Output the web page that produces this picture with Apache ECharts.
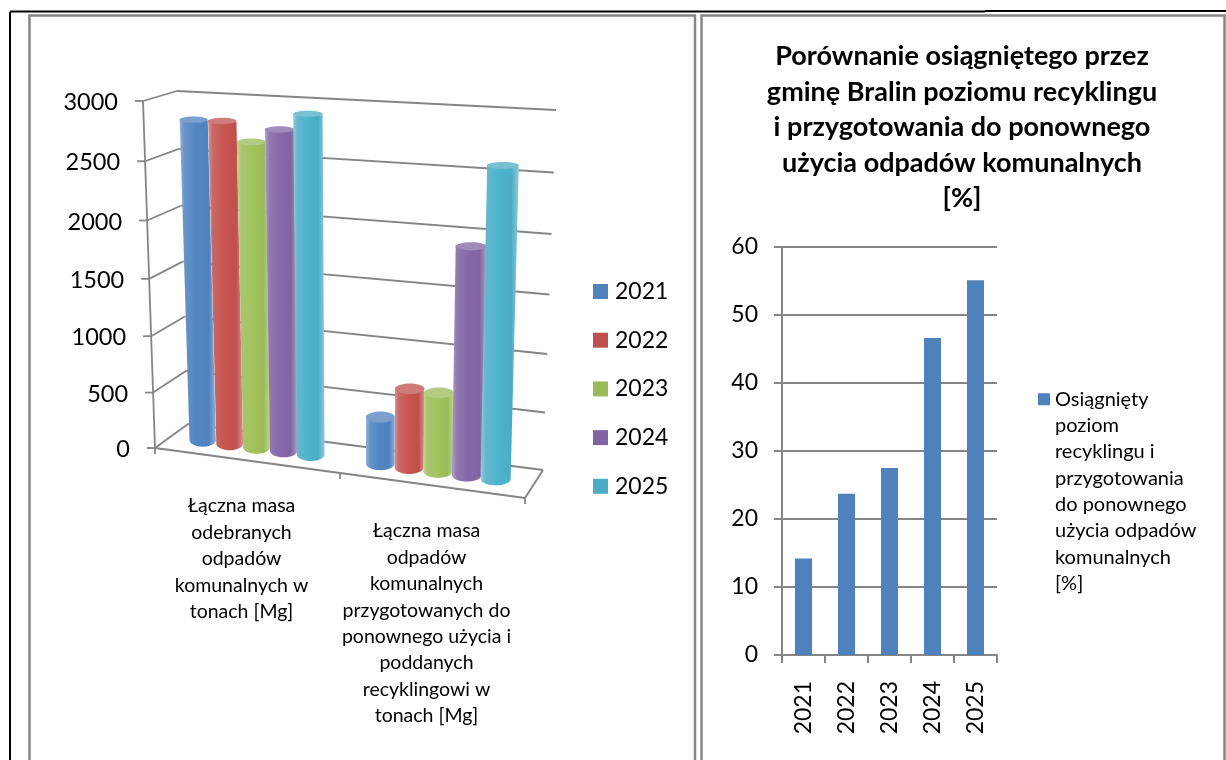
<!DOCTYPE html>
<html><head><meta charset="utf-8">
<style>html,body{margin:0;padding:0;background:#fff}#c{width:1226px;height:760px}</style>
<script src="https://cdn.jsdelivr.net/npm/echarts@6/dist/echarts.min.js"></script>
</head><body><div id="c"></div>
<script>
// ---- data ----
const categories3d = [
  'Łączna masa\nodebranych\nodpadów\nkomunalnych w\ntonach [Mg]',
  'Łączna masa\nodpadów\nkomunalnych\nprzygotowanych do\nponownego użycia i\npoddanych\nrecyklingowi w\ntonach [Mg]'
];
const years = ['2021','2022','2023','2024','2025'];
const mass2021 = [2817, 411];
const mass2022 = [2820, 686];
const mass2023 = [2660, 680];
const mass2024 = [2778, 1930];
const mass2025 = [2920, 2600];
const massTicks = [0,500,1000,1500,2000,2500,3000];
const palette = ['#4f81bd','#c0504d','#9bbb59','#8064a2','#4bacc6'];
const rateValues = [14.2, 23.7, 27.5, 46.6, 55.1];
const rateName = 'Osiągnięty\npoziom\nrecyklingu i\nprzygotowania\ndo ponownego\nużycia odpadów\nkomunalnych\n[%]';
const titleText = 'Porównanie osiągniętego przez\ngminę Bralin poziomu recyklingu\ni przygotowania do ponownego\nużycia odpadów komunalnych\n[%]';

// ---- perspective view of the 3D box (front/back, left/right, floor/top) ----
const FONT = 'Lato';
const GRAY = '#858585';
const box = {
  fl0:[155,448], fl1:[143,101], fr0:[525,498], fr1:[534,124],
  bl0:[188,424], bl1:[177,91],  br0:[543,470], br1:[556,110]
};
const lerp=(a,b,t)=>[a[0]+(b[0]-a[0])*t,a[1]+(b[1]-a[1])*t];
function warp(u,v,d){
  const k=0.05, w=v*(1-k)+k*v*v;
  const f0=lerp(box.fl0,box.fr0,u), f1=lerp(box.fl1,box.fr1,u);
  const b0=lerp(box.bl0,box.br0,u), b1=lerp(box.bl1,box.br1,u);
  return lerp(lerp(f0,b0,d),lerp(f1,b1,d),w);
}
function norm(api,params,cat,val){
  const p=api.coord([cat,val]), cs=params.coordSys;
  return [(p[0]-cs.x)/cs.width,(cs.y+cs.height-p[1])/cs.height];
}
const ln=(a,b,w)=>({type:'line',shape:{x1:a[0],y1:a[1],x2:b[0],y2:b[1]},style:{stroke:GRAY,lineWidth:w||1.8},silent:true});

function renderFrame(params,api){
  const v=norm(api,params,0,api.value(1))[1];
  const ch=[];
  const fl=warp(0,v,0), bl=warp(0,v,1), br=warp(1,v,1);
  ch.push(ln(fl,bl),ln(bl,br),ln([fl[0]-8,fl[1]],fl));
  ch.push({type:'text',style:{text:String(api.value(1)),x:fl[0]-25,y:fl[1]+1.5,align:'right',verticalAlign:'middle',fill:'#000',font:'23.5px '+FONT}});
  if(params.dataIndex===0){
    ch.push(ln(warp(0,0,0),warp(0,1,0)));
    ch.push(ln(warp(0,0,0),warp(1,0,0),2));
    ch.push(ln(warp(1,0,0),warp(1,0,1),2));
    [0,0.5,1].forEach(u=>{const p=warp(u,0,0);ch.push(ln(p,[p[0],p[1]+6]));});
  }
  return {type:'group',children:ch};
}
function renderCatLabel(params,api){
  const c=api.coord([params.dataIndex,0]), cs=params.coordSys;
  const u=(c[0]-cs.x)/cs.width, p=warp(u,0,0);
  return {type:'text',style:{text:categories3d[params.dataIndex],x:p[0]-6,y:p[1]+32.5,align:'center',verticalAlign:'top',fill:'#000',font:'19.5px '+FONT,lineHeight:26.4}};
}
function cylinder(si){
  return function(params,api){
    const cat=api.value(0), val=api.value(1);
    const n=norm(api,params,cat,val);
    const spacing=0.0745+0.01*(n[0]-0.25);
    const uc=n[0]-0.015+(si-2)*spacing, hw=0.036+0.006*uc, d=0.5, v=n[1];
    const tl=warp(uc-hw,v,d), tr=warp(uc+hw,v,d), bl=warp(uc-hw,0,d), br=warp(uc+hw,0,d);
    const tc=warp(uc,v,d), bc=warp(uc,0,d);
    const rt=6-3*v, rb=6.5;
    const pts=[tl,bl];
    const N=24;
    for(let i=1;i<N;i++){const a=Math.PI*i/N;pts.push([bc[0]-Math.cos(a)*(br[0]-bl[0])/2, bc[1]+Math.sin(a)*rb]);}
    pts.push(br,tr);
    const c=palette[si];
    // echarts.color.lift: positive level darkens, negative level lightens
    const grad=new echarts.graphic.LinearGradient(0,0,1,0,[
      {offset:0,color:echarts.color.lift(c,0.38)},
      {offset:0.14,color:echarts.color.lift(c,0.14)},
      {offset:0.45,color:echarts.color.lift(c,-0.05)},
      {offset:0.8,color:c},
      {offset:1,color:echarts.color.lift(c,0.38)}
    ]);
    return {type:'group',children:[
      {type:'polygon',shape:{points:pts},style:{fill:grad}},
      {type:'ellipse',shape:{cx:tc[0],cy:tc[1],rx:(tr[0]-tl[0])/2,ry:rt},style:{fill:echarts.color.lift(c,0.25)}}
    ]};
  };
}
const massSeries=[mass2021,mass2022,mass2023,mass2024,mass2025];
const series=[
  {type:'custom',name:'frame',xAxisIndex:0,yAxisIndex:0,silent:true,renderItem:renderFrame,z:1,
   data:massTicks.map(t=>[0,t])},
  {type:'custom',name:'labels',xAxisIndex:0,yAxisIndex:0,silent:true,renderItem:renderCatLabel,z:1,
   data:categories3d.map((_,i)=>[i,0])}
];
years.forEach((y,si)=>series.push({type:'custom',name:y,xAxisIndex:0,yAxisIndex:0,renderItem:cylinder(si),z:2+si,
  itemStyle:{color:palette[si]},data:massSeries[si].map((v,i)=>[i,v])}));
series.push({type:'bar',name:rateName,xAxisIndex:1,yAxisIndex:1,barWidth:17,itemStyle:{color:'#4f81bd'},data:rateValues,z:3});

const frameLine=(x1,y1,x2,y2,c,w)=>({type:'line',silent:true,shape:{x1,y1,x2,y2},style:{stroke:c,lineWidth:w}});
const chart=echarts.init(document.getElementById('c'),null,{renderer:'canvas'});
chart.setOption({
  animation:false,backgroundColor:'#fff',
  textStyle:{fontFamily:FONT},
  title:{text:titleText,left:962,top:39,padding:0,textAlign:'center',
    textStyle:{fontFamily:FONT,fontSize:27,fontWeight:'bold',color:'#000',lineHeight:35.5}},
  grid:[{left:155,top:101,width:370,height:346},{left:782,top:247,width:215,height:408}],
  xAxis:[
    {type:'category',gridIndex:0,show:false,data:[0,1]},
    {type:'category',gridIndex:1,data:years,
     axisLine:{lineStyle:{color:GRAY,width:2}},axisTick:{show:true,alignWithLabel:false,interval:0,length:8,lineStyle:{color:GRAY,width:2}},
     axisLabel:{rotate:90,fontFamily:FONT,fontSize:23,color:'#000',margin:26,interval:0}}
  ],
  yAxis:[
    {type:'value',gridIndex:0,show:false,min:0,max:3000,interval:500},
    {type:'value',gridIndex:1,min:0,max:60,interval:10,
     axisLine:{show:true,lineStyle:{color:GRAY,width:2}},axisTick:{show:true,length:8,lineStyle:{color:GRAY,width:2}},
     splitLine:{lineStyle:{color:GRAY,width:2}},
     axisLabel:{fontFamily:FONT,fontSize:23,color:'#000',margin:24}}
  ],
  legend:[
    {left:593,top:280,padding:0,orient:'vertical',data:years,itemWidth:15,itemHeight:15,itemGap:25.7,selectedMode:false,
     icon:'rect',textStyle:{fontFamily:FONT,fontSize:23,color:'#000',padding:[0,0,0,2]}},
    {left:1038,top:202,padding:0,orient:'vertical',data:[rateName],itemWidth:12,itemHeight:12,selectedMode:false,icon:'rect',
     formatter:n=>'\n\n\n\n\n\n\n'+n,
     textStyle:{fontFamily:FONT,fontSize:20,color:'#000',lineHeight:26.3}}
  ],
  graphic:[
    frameLine(10,12,10,760,'#000',2),
    frameLine(10,11.5,985,11.5,'#000',2),
    frameLine(985,11,1226,11,'#000',2),
    {type:'rect',silent:true,shape:{x:29.5,y:15.5,width:665.5,height:760},style:{fill:'none',stroke:GRAY,lineWidth:2.5}},
    {type:'rect',silent:true,shape:{x:701.5,y:15.5,width:523,height:760},style:{fill:'none',stroke:GRAY,lineWidth:2.5}}
  ],
  series
});
</script></body></html>
